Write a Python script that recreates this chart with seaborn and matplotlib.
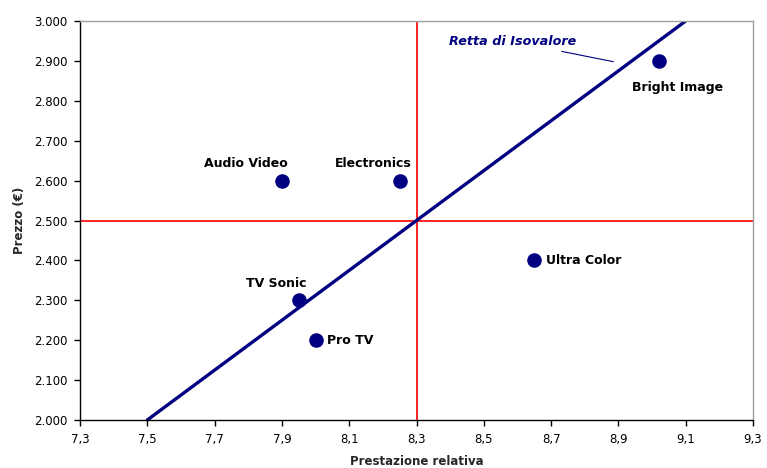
import matplotlib
matplotlib.use("Agg")
import matplotlib.pyplot as plt
from matplotlib.ticker import FuncFormatter, FixedLocator
import seaborn as sns
import pandas as pd

# Brands positioned by relative performance and price
brands = ["Audio Video", "Electronics", "Bright Image", "TV Sonic", "Pro TV", "Ultra Color"]
performance = [7.9, 8.25, 9.02, 7.95, 8.0, 8.65]
price = [2600, 2600, 2900, 2300, 2200, 2400]

# Iso-value line endpoints
iso_x = [7.5, 9.1]
iso_y = [2000, 3000]

# Reference lines (averages)
ref_x = 8.3
ref_y = 2500

x_ticks = [7.3, 7.5, 7.7, 7.9, 8.1, 8.3, 8.5, 8.7, 8.9, 9.1, 9.3]
y_ticks = [2000, 2100, 2200, 2300, 2400, 2500, 2600, 2700, 2800, 2900, 3000]

navy = "#000080"

sns.set_style("white")
plt.rcParams["font.family"] = ["DejaVu Sans"]

fig = plt.figure(figsize=(7.67, 4.68), dpi=100)
ax = fig.add_axes([80 / 767, 48 / 468, 673 / 767, 399 / 468])

df = pd.DataFrame({"brand": brands, "perf": performance, "price": price})
iso = pd.DataFrame({"x": iso_x, "y": iso_y})

ax.axvline(ref_x, color="#ff0000", lw=1.2, zorder=1)
ax.axhline(ref_y, color="#ff0000", lw=1.2, zorder=1)

sns.lineplot(data=iso, x="x", y="y", ax=ax, color=navy, lw=2.4, zorder=2)
sns.scatterplot(data=df, x="perf", y="price", ax=ax, color=navy, s=110,
                edgecolor=navy, linewidth=0, zorder=3)

# Label placement per brand: (dx pixels, dy pixels, ha)
offsets = {
    "Audio Video": (-36, 17, "center"),
    "Electronics": (-26, 17, "center"),
    "Bright Image": (19, -27, "center"),
    "TV Sonic": (-22, 17, "center"),
    "Pro TV": (11, 0, "left"),
    "Ultra Color": (12, 0, "left"),
}
for b, xv, yv in zip(brands, performance, price):
    dx, dy, ha = offsets[b]
    ax.annotate(b, (xv, yv), xytext=(dx, dy), textcoords="offset pixels",
                ha=ha, va="center", fontsize=9, fontweight="bold", color="black")

ax.annotate("Retta di Isovalore", xy=(8.885, 2898), xytext=(8.775, 2932),
            ha="right", va="bottom", fontsize=9.2, fontstyle="italic",
            fontweight="bold", color=navy,
            arrowprops=dict(arrowstyle="-", color=navy, lw=0.8,
                            shrinkA=0, shrinkB=0))

ax.set_xlim(7.3, 9.3)
ax.set_ylim(2000, 3000)
ax.xaxis.set_major_locator(FixedLocator(x_ticks))
ax.yaxis.set_major_locator(FixedLocator(y_ticks))
ax.xaxis.set_major_formatter(FuncFormatter(lambda v, p: f"{v:.1f}".replace(".", ",")))
ax.yaxis.set_major_formatter(FuncFormatter(lambda v, p: f"{int(round(v)):,}".replace(",", ".")))
ax.tick_params(axis="both", direction="out", length=4, width=1, color="black",
               labelsize=8.5, labelcolor="black", pad=5, bottom=True, left=True)

ax.set_xlabel("Prestazione relativa", fontsize=8.5, fontweight="bold", labelpad=7)
ax.set_ylabel("Prezzo (€)", fontsize=8.5, fontweight="bold", labelpad=6)

for s in ["left", "bottom"]:
    ax.spines[s].set_color("black")
    ax.spines[s].set_linewidth(1)
for s in ["top", "right"]:
    ax.spines[s].set_color("#a0a0a0")
    ax.spines[s].set_linewidth(1)

fig.savefig("out.png", dpi=100, facecolor="white")
